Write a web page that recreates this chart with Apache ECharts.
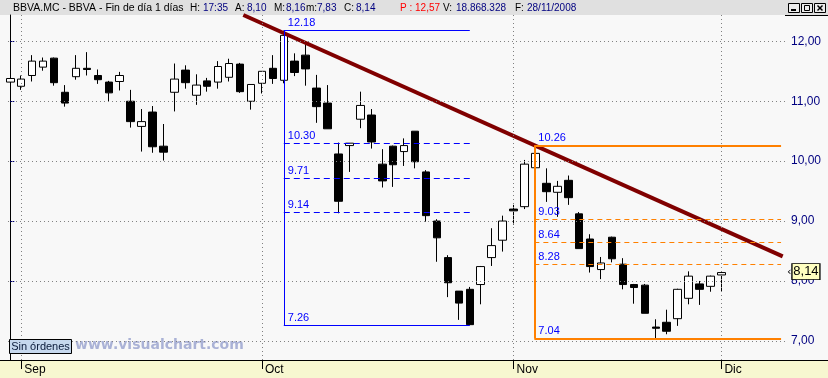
<!DOCTYPE html>
<html><head><meta charset="utf-8">
<script src="https://cdn.jsdelivr.net/npm/echarts@6/dist/echarts.min.js"></script>
<style>html,body{margin:0;padding:0;background:#f8f8f8}#c{width:828px;height:378px}</style>
</head><body><div id="c"></div>
<script>
// ---- data ----
const dates = ['2008-08-29',
 '2008-09-01','2008-09-02','2008-09-03','2008-09-04','2008-09-05','2008-09-08','2008-09-09','2008-09-10','2008-09-11','2008-09-12',
 '2008-09-15','2008-09-16','2008-09-17','2008-09-18','2008-09-19','2008-09-22','2008-09-23','2008-09-24','2008-09-25','2008-09-26',
 '2008-09-29','2008-09-30',
 '2008-10-01','2008-10-02','2008-10-03','2008-10-06','2008-10-07','2008-10-08','2008-10-09','2008-10-10','2008-10-13','2008-10-14',
 '2008-10-15','2008-10-16','2008-10-17','2008-10-20','2008-10-21','2008-10-22','2008-10-23','2008-10-24','2008-10-27','2008-10-28',
 '2008-10-29','2008-10-30','2008-10-31',
 '2008-11-03','2008-11-04','2008-11-05','2008-11-06','2008-11-07','2008-11-10','2008-11-11','2008-11-12','2008-11-13','2008-11-14',
 '2008-11-17','2008-11-18','2008-11-19','2008-11-20','2008-11-21','2008-11-24','2008-11-25','2008-11-26','2008-11-27','2008-11-28'];
const openP  = [11.32,11.25,11.43,11.57,11.72,11.15,11.41,11.55,11.43,11.32,11.33,11.00,10.58,10.82,10.25,11.15,11.52,11.10,11.34,11.32,
 11.40,11.62,11.00,11.30,11.55,11.35,11.67,11.77,11.22,10.97,10.12,10.26,10.70,10.77,9.95,10.25,10.16,10.50,9.82,9.00,
 8.39,7.83,7.86,7.94,8.39,8.68,9.20,9.24,9.89,9.63,9.48,9.68,9.12,8.70,8.19,8.73,8.28,7.94,7.93,7.23,
 7.31,7.37,7.71,7.95,7.91,8.10];
const closeP = [11.38,11.37,11.67,11.67,11.31,10.97,11.55,11.53,11.36,11.14,11.43,10.66,10.66,10.24,10.15,11.37,11.31,11.27,11.25,11.58,
 11.63,11.16,11.28,11.50,11.38,12.10,11.48,11.54,10.91,10.54,9.33,10.30,10.93,10.32,9.67,9.94,10.26,9.99,9.09,8.72,
 7.97,7.63,7.27,8.24,8.59,9.00,9.17,9.95,10.13,9.49,9.58,9.39,8.54,8.24,8.30,8.37,7.94,7.89,7.46,7.21,
 7.16,7.86,8.08,7.86,8.08,8.14];
const lowP   = [11.25,11.19,11.33,11.51,11.26,10.91,11.36,11.43,11.29,10.99,11.18,10.56,10.16,10.14,10.01,10.83,11.21,10.94,11.16,11.21,
 11.33,11.14,10.86,11.13,11.29,11.30,11.42,11.26,10.64,10.54,9.13,9.82,10.55,10.21,9.56,9.57,9.92,9.88,8.99,8.32,
 7.73,7.35,7.26,7.61,8.25,8.49,8.94,9.20,9.47,9.32,9.07,9.27,8.54,8.14,8.03,8.31,7.86,7.62,7.46,7.04,
 7.11,7.25,7.61,7.60,7.82,7.83];
const highP  = [11.44,11.43,11.77,11.73,11.73,11.27,11.77,11.82,11.53,11.34,11.49,11.19,10.87,10.92,10.62,11.63,11.60,11.45,11.39,11.67,
 11.71,11.64,11.28,11.50,11.77,12.18,11.80,11.97,11.44,11.27,10.31,10.30,11.16,10.87,10.20,10.26,10.38,10.50,9.85,9.03,
 8.43,7.83,7.90,8.25,8.88,9.09,9.27,10.02,10.26,9.88,9.67,9.76,9.15,8.78,8.40,8.74,8.38,7.95,7.95,7.36,
 7.52,7.87,8.16,8.00,8.09,8.16];
const monthTickIdx = [1, 23, 46, 65];
const monthLabels  = ['Sep', 'Oct', 'Nov', 'Dic'];
const yTicks = [7, 8, 9, 10, 11, 12];
// Fibonacci boxes: [start index, end index], solid top/bottom levels, dashed retracements
const fibBlueX = [25, 42];
const fibBlueSolid = [12.18, 7.26];
const fibBlueDashed = [10.30, 9.71, 9.14];
const fibOrangeX = [47.9, 70.45];
const fibOrangeSolid = [10.26, 7.04];
const fibOrangeDashed = [9.03, 8.64, 8.28];
// trend line end points (index, value)
const trendX = [21.3, 70.6];
const trendY = [12.44, 8.41];
const lastPrice = 8.14;
const lastIdx = 65;

// ---- chart ----
const X_MIN = -0.94, X_MAX = 70.81;
const candleData = dates.map((d, i) => [i, openP[i], closeP[i], lowP[i], highP[i]]);
const fmtComma = v => v.toFixed(2).replace('.', ',');

function fibLines(xr, solid, dashed, color, solidW, dash) {
  const lab = v => ({show: true, formatter: v.toFixed(2), position: 'insideStartTop', color: '#0000ff',
    fontSize: 11, fontFamily: 'Liberation Sans', distance: [4, 2]});
  const out = [];
  solid.forEach(v => out.push([{coord: [xr[0], v], lineStyle: {color, width: solidW, type: 'solid'}, label: lab(v)}, {coord: [xr[1], v]}]));
  dashed.forEach(v => out.push([{coord: [xr[0], v], lineStyle: {color, width: 1, type: dash}, label: lab(v)}, {coord: [xr[1], v]}]));
  out.push([{coord: [xr[0], solid[0]], lineStyle: {color, width: solidW, type: 'solid'}, label: {show: false}}, {coord: [xr[0], solid[1]]}]);
  return out;
}

const chart = echarts.init(document.getElementById('c'), null, {renderer: 'canvas'});
const titleParts = [
  [13, 'BBVA.MC - BBVA - Fin de día 1 días', '#000000', 10.5], [190, 'H:', '#000000'], [203, '17:35', '#000080'],
  [235, 'A:', '#000000'], [247, '8,10', '#000080'], [274, 'M:', '#000000'], [286, '8,16', '#000080'],
  [306, 'm:', '#000000'], [317, '7,83', '#000080'], [344, 'C:', '#000000'], [356, '8,14', '#000080'],
  [400, 'P : 12,57', '#ff0000'], [443, 'V:', '#000000'], [456, '18.868.328', '#000080'],
  [515, 'F:', '#000000'], [527, '28/11/2008', '#000080']];
const graphic = [
  {type: 'rect', shape: {x: 0, y: 0, width: 828, height: 15}, style: {fill: '#e0e0e0'}, z: -10},
  {type: 'rect', shape: {x: 0, y: 360, width: 828, height: 18}, style: {fill: '#f7f7d0'}, z: -10},
  {type: 'line', shape: {x1: 0, y1: 360.5, x2: 828, y2: 360.5}, style: {stroke: '#000', lineWidth: 1}, z: 50},
  {type: 'line', shape: {x1: 785, y1: 15.5, x2: 828, y2: 15.5}, style: {stroke: '#000', lineWidth: 1}, z: 50},
  {type: 'rect', shape: {x: 9.5, y: 339.5, width: 62, height: 14}, style: {fill: '#c6d8ee', stroke: '#000', lineWidth: 1}, z: 50},
  {type: 'text', x: 40.5, y: 347, style: {text: 'Sin órdenes', fill: '#0a1a3a', font: '11px "Liberation Sans"', align: 'center', verticalAlign: 'middle'}, z: 51},
  {type: 'text', x: 75, y: 345, style: {text: 'www.visualchart.com', fill: '#aab2d6', font: 'bold 14px "DejaVu Sans"', align: 'left', verticalAlign: 'middle'}, z: 1},
  {type: 'text', x: 787, y: 272, style: {text: '‹', fill: '#000', font: '11px "DejaVu Sans"', align: 'left', verticalAlign: 'middle'}, z: 60}
];
titleParts.forEach(p => graphic.push({type: 'text', x: p[0], y: 8, style: {text: p[1], fill: p[2], font: (p[3] || 10) + 'px "Liberation Sans"', align: 'left', verticalAlign: 'middle'}, z: 60}));
[788, 801, 814].forEach((bx, k) => {
  graphic.push({type: 'rect', shape: {x: bx + 0.5, y: 3.5, width: 11, height: 9}, style: {fill: '#ececec', stroke: '#000', lineWidth: 1}, z: 60});
  if (k === 0) graphic.push({type: 'line', shape: {x1: bx + 3, y1: 10, x2: bx + 8, y2: 10}, style: {stroke: '#000', lineWidth: 2}, z: 61});
  if (k === 1) graphic.push({type: 'rect', shape: {x: bx + 3.5, y: 5.5, width: 5, height: 5}, style: {fill: 'none', stroke: '#000', lineWidth: 1}, z: 61});
  if (k === 2) {
    graphic.push({type: 'line', shape: {x1: bx + 3.5, y1: 5.5, x2: bx + 8.5, y2: 10.5}, style: {stroke: '#000', lineWidth: 1.5}, z: 61});
    graphic.push({type: 'line', shape: {x1: bx + 8.5, y1: 5.5, x2: bx + 3.5, y2: 10.5}, style: {stroke: '#000', lineWidth: 1.5}, z: 61});
  }
});

chart.setOption({
  animation: false,
  backgroundColor: '#f8f8f8',
  grid: {left: 0, right: 43, top: 15, bottom: 18, containLabel: false},
  xAxis: {
    type: 'value', min: X_MIN, max: X_MAX,
    axisLine: {show: true, lineStyle: {color: '#000', width: 1}},
    axisTick: {show: true, customValues: monthTickIdx, length: 9, lineStyle: {color: '#000'}},
    axisLabel: {show: true, customValues: monthTickIdx, formatter: v => monthLabels[monthTickIdx.indexOf(v)] || '',
      align: 'left', padding: [0, 0, 0, 3], margin: 4, color: '#000', fontSize: 12, fontFamily: 'Liberation Sans'},
    splitLine: {show: false}
  },
  yAxis: {
    type: 'value', position: 'right', min: 6.68, max: 12.44, scale: true,
    axisLine: {show: true, lineStyle: {color: '#000', width: 1}},
    axisTick: {show: true, customValues: yTicks, length: 4, lineStyle: {color: '#000080'}},
    axisLabel: {show: true, customValues: yTicks, formatter: v => fmtComma(v), margin: 6, color: '#000080', fontSize: 12, fontFamily: 'Liberation Sans'},
    splitLine: {show: false}
  },
  graphic: graphic,
  series: [
    { // dotted grid
      type: 'line', data: [], z: 1, silent: true,
      markLine: {silent: true, symbol: 'none', animation: false, label: {show: false},
        lineStyle: {color: '#808080', width: 1, type: [1, 3]},
        data: yTicks.map(v => [{coord: [-0.21, v]}, {coord: [X_MAX, v]}]).concat(monthTickIdx.map(i => ({xAxis: i})))}
    },
    { // blue fibonacci
      type: 'line', data: [], z: 2, silent: true,
      markLine: {silent: true, symbol: 'none', animation: false, data: fibLines(fibBlueX, fibBlueSolid, fibBlueDashed, '#0000ff', 1, [6, 4])}
    },
    { // orange fibonacci
      type: 'line', data: [], z: 2, silent: true,
      markLine: {silent: true, symbol: 'none', animation: false, data: fibLines(fibOrangeX, fibOrangeSolid, fibOrangeDashed, '#ff8000', 2, [5, 4])}
    },
    {
      type: 'candlestick', data: candleData, barWidth: 8, z: 3,
      itemStyle: {color: '#ffffff', color0: '#000000', borderColor: '#000000', borderColor0: '#000000', borderWidth: 1},
      markPoint: {
        silent: true, animation: false,
        data: [
          {coord: [lastIdx, lastPrice], symbol: 'rect', symbolSize: [28, 16], symbolOffset: [84.5, -1],
            itemStyle: {color: '#ffffc0', borderColor: '#000', borderWidth: 1},
            label: {show: true, position: 'inside', formatter: fmtComma(lastPrice), color: '#000', fontSize: 13, fontFamily: 'Liberation Sans'}}
        ]
      }
    },
    { // trend line
      type: 'line', data: trendX.map((x, i) => [x, trendY[i]]), symbol: 'none', z: 4, silent: true,
      lineStyle: {color: '#800000', width: 4}, clip: true
    }
  ]
});
</script></body></html>
